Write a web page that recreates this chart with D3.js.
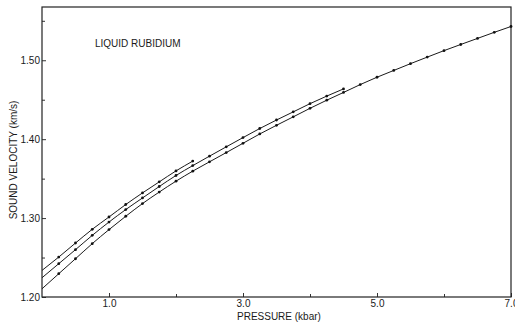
<!DOCTYPE html>
<html>
<head>
<meta charset="utf-8">
<script src="https://cdn.jsdelivr.net/npm/d3@7"></script>
<style>
  body { margin: 0; background: #fff; }
  svg text { font-family: "Liberation Sans", Arial, sans-serif; fill: #1a1a1a; }
</style>
</head>
<body>
<svg id="chart" width="515" height="326"></svg>
<script>
// pressure steps (kbar)
var pressure = [0, 0.25, 0.5, 0.75, 1.0, 1.25, 1.5, 1.75, 2.0, 2.25, 2.5, 2.75,
  3.0, 3.25, 3.5, 3.75, 4.0, 4.25, 4.5, 4.75, 5.0, 5.25, 5.5, 5.75,
  6.0, 6.25, 6.5, 6.75, 7.0];

// sound velocity (km/s)
var upper = [1.2337, 1.2506, 1.2684, 1.2858, 1.3014, 1.3172, 1.3319, 1.3459, 1.3598, 1.3722];
var middle = [1.2244, 1.2422, 1.2600, 1.2781, 1.2950, 1.3108, 1.3255, 1.3400, 1.3540, 1.3665,
  1.3785, 1.3903, 1.4020, 1.4135, 1.4243, 1.4346, 1.4450, 1.4546, 1.4637];
var lower = [1.2104, 1.2295, 1.2485, 1.2676, 1.2854, 1.3023, 1.3184, 1.3330, 1.3468, 1.3595,
  1.3713, 1.3830, 1.3948, 1.4066, 1.4176, 1.4283, 1.4391, 1.4494, 1.4592, 1.4692,
  1.4785, 1.4871, 1.4957, 1.5040, 1.5122, 1.5200, 1.5277, 1.5354, 1.5428];

var xMajor = [1, 3, 5, 7];
var xMinor = [2, 4, 6];
var yMajor = [1.20, 1.30, 1.40, 1.50];
var yMinor = [1.25, 1.35, 1.45, 1.55];

var svg = d3.select("#chart"),
    margin = {top: 7, left: 42, bottom: 29, right: 4},
    width = +svg.attr("width"),
    height = +svg.attr("height");

var x = d3.scaleLinear()
    .domain([0, 7])
    .range([margin.left, width - margin.right]);

var y = d3.scaleLinear()
    .domain([1.20, 1.5675])
    .range([height - margin.bottom, margin.top]);

var series = [upper, middle, lower].map(vals => vals.map((v, i) => [pressure[i], v]));

// axes
svg.append("g")
    .attr("transform", "translate(0," + y.range()[0] + ")")
    .call(d3.axisBottom(x).tickValues(xMajor).tickFormat(d3.format(".1f"))
      .tickSize(-4).tickPadding(3))
    .call(g => g.select(".domain").remove())
    .call(g => g.selectAll("text").attr("font-size", 10).attr("font-family", null));

svg.append("g")
    .attr("transform", "translate(0," + y.range()[0] + ")")
    .call(d3.axisBottom(x).tickValues(xMinor).tickFormat("").tickSize(-3))
    .call(g => g.select(".domain").remove());

svg.append("g")
    .attr("transform", "translate(" + margin.left + ",0)")
    .call(d3.axisLeft(y).tickValues(yMajor).tickFormat(d3.format(".2f"))
      .tickSize(-4).tickPadding(2))
    .call(g => g.select(".domain").remove())
    .call(g => g.selectAll("text").attr("font-size", 10).attr("font-family", null));

svg.append("g")
    .attr("transform", "translate(" + margin.left + ",0)")
    .call(d3.axisLeft(y).tickValues(yMinor).tickFormat("").tickSize(-3))
    .call(g => g.select(".domain").remove());

svg.selectAll(".tick line").attr("stroke", "#333");

// frame
svg.append("rect")
    .attr("x", x.range()[0])
    .attr("y", y.range()[1])
    .attr("width", x.range()[1] - x.range()[0])
    .attr("height", y.range()[0] - y.range()[1])
    .attr("fill", "none")
    .attr("stroke", "#222")
    .attr("stroke-width", 1.2);

// curves
var line = d3.line()
    .x(d => x(d[0]))
    .y(d => y(d[1]))
    .curve(d3.curveMonotoneX);

svg.selectAll(".curve")
    .data(series)
  .enter().append("path")
    .attr("class", "curve")
    .attr("d", line)
    .attr("fill", "none")
    .attr("stroke", "#1a1a1a")
    .attr("stroke-width", 1);

// measured points (none at zero pressure)
series.forEach(function(s) {
  svg.selectAll(null)
      .data(s.slice(1))
    .enter().append("circle")
      .attr("cx", d => x(d[0]))
      .attr("cy", d => y(d[1]))
      .attr("r", 1.4)
      .attr("fill", "#111");
});

// labels
svg.append("text")
    .attr("x", 95)
    .attr("y", 47)
    .attr("font-size", 10)
    .text("LIQUID RUBIDIUM");

svg.append("text")
    .attr("x", 237)
    .attr("y", 320)
    .attr("font-size", 10)
    .text("PRESSURE (kbar)");

svg.append("text")
    .attr("transform", "translate(17,160) rotate(-90)")
    .attr("text-anchor", "middle")
    .attr("font-size", 10)
    .text("SOUND VELOCITY (km/s)");
</script>
</body>
</html>
